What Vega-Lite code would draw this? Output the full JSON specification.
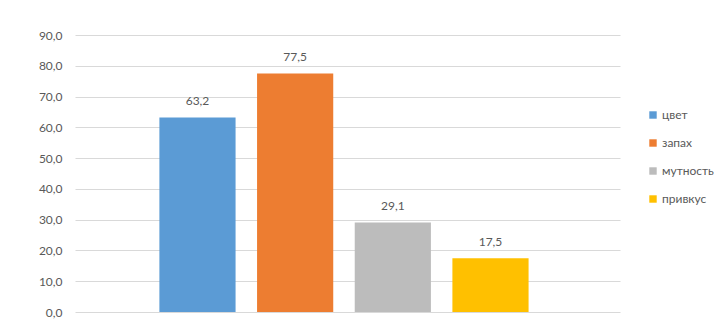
{
  "$schema": "https://vega.github.io/schema/vega-lite/v6.json",
  "width": 545,
  "height": 277,
  "autosize": {"type": "none"},
  "padding": {"left": 75, "top": 35, "right": 108, "bottom": 14},
  "background": "white",
  "config": {
    "locale": {"number": {"decimal": ",", "thousands": " ", "grouping": [3], "currency": ["", ""]}},
    "view": {"stroke": null},
    "font": "Lato"
  },
  "data": {
    "values": [
      {"cat": "цвет", "value": 63.2},
      {"cat": "запах", "value": 77.5},
      {"cat": "мутность", "value": 29.1},
      {"cat": "привкус", "value": 17.5}
    ]
  },
  "encoding": {
    "x": {
      "field": "cat", "type": "nominal", "sort": null,
      "scale": {"paddingInner": 0.22, "paddingOuter": 0.9, "align": 0.48},
      "axis": null
    },
    "y": {
      "field": "value", "type": "quantitative",
      "scale": {"domain": [0, 90]},
      "axis": {
        "values": [0, 10, 20, 30, 40, 50, 60, 70, 80, 90],
        "format": ".1f", "title": null, "domain": false, "ticks": false,
        "labelPadding": 13, "labelFontSize": 12, "labelColor": "#595959",
        "gridColor": "#d9d9d9", "gridWidth": 1
      }
    }
  },
  "layer": [
    {
      "mark": {"type": "bar"},
      "encoding": {
        "color": {
          "field": "cat", "type": "nominal", "sort": null,
          "scale": {"domain": ["цвет", "запах", "мутность", "привкус"], "range": ["#5b9bd5", "#ed7d31", "#bcbcbc", "#ffc000"]},
          "legend": {
            "title": null, "orient": "none", "legendX": 572, "legendY": 74, "symbolType": "square",
            "symbolSize": 55, "labelFontSize": 12, "labelColor": "#595959",
            "rowPadding": 16, "padding": 0, "labelOffset": 3
          }
        }
      }
    },
    {
      "mark": {"type": "text", "baseline": "bottom", "dy": -9, "fontSize": 12, "color": "#595959"},
      "encoding": {"text": {"field": "value", "type": "quantitative", "format": ".1f"}}
    }
  ]
}
